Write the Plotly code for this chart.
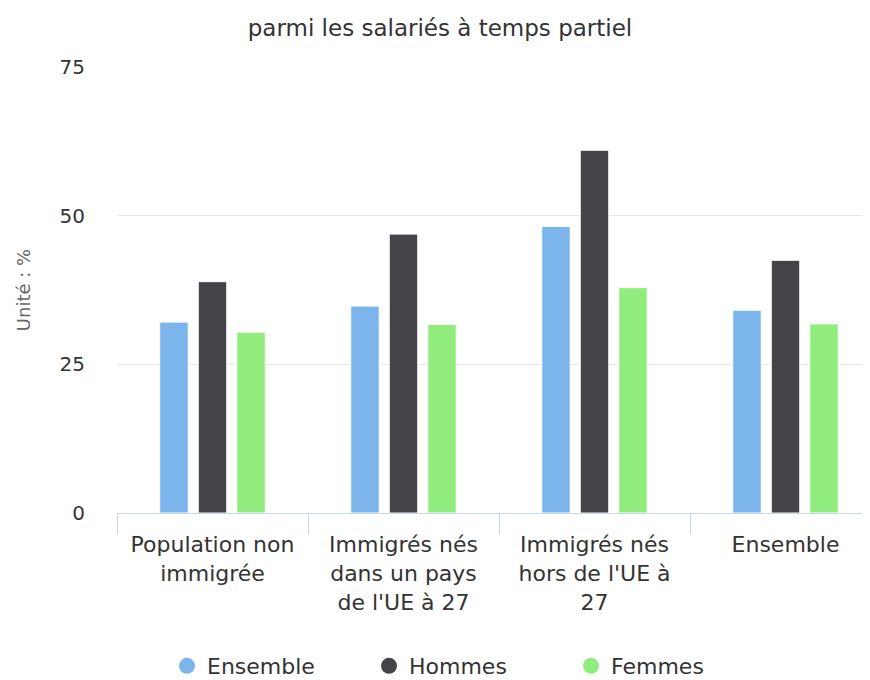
import plotly.graph_objects as go

categories = ["Population non<br>immigrée", "Immigrés nés<br>dans un pays<br>de l'UE à 27",
              "Immigrés nés<br>hors de l'UE à<br>27", "Ensemble"]
series_names = ["Ensemble", "Hommes", "Femmes"]
ensemble = [32.1, 34.8, 48.2, 34.1]
hommes = [38.9, 46.9, 61.0, 42.5]
femmes = [30.4, 31.7, 37.9, 31.8]
colors = ["#7cb5ec", "#434348", "#90ed7d"]
yticks = [0, 25, 50, 75]

# page body adds an 8px margin, so the figure is 8px smaller and shifted
W, H = 862, 672
left, top, bottom = 109, 59, 505
cat_w = 191.0
FONT = "DejaVu Sans"

fig = go.Figure()
for name, vals, col in zip(series_names, [ensemble, hommes, femmes], colors):
    fig.add_trace(go.Bar(x=categories, y=vals, name=name, showlegend=False,
                         marker=dict(color=col, line=dict(color="#ffffff", width=1)),
                         hoverinfo="y"))
for name, col in zip(series_names, colors):
    fig.add_trace(go.Scatter(x=[None], y=[None], mode="markers", name=name,
                             marker=dict(color=col, size=16, symbol="circle")))

x_max = -0.5 + (W - left) / cat_w

fig.update_layout(
    width=W, height=H,
    paper_bgcolor="white", plot_bgcolor="white",
    margin=dict(l=left, r=0, t=top, b=H - bottom, pad=0),
    font=dict(family=FONT, size=20, color="#333333"),
    title=dict(text="parmi les salariés à temps partiel", x=432 / W, xref="container",
               xanchor="center", y=1 - 20 / H, yanchor="middle",
               font=dict(family=FONT, size=23, color="#333333")),
    barmode="group", bargap=0.395, bargroupgap=0.26,
    showlegend=True,
    legend=dict(orientation="h", x=159 / W, xref="container", xanchor="left",
                y=14 / H, yref="container", yanchor="middle",
                font=dict(family=FONT, size=22, color="#333333"),
                entrywidth=157, entrywidthmode="pixels"),
)
fig.update_xaxes(type="category", range=[-0.5, x_max], showgrid=False,
                 showline=True, linecolor="#ccd6eb", linewidth=1,
                 ticks="outside", tickson="boundaries", ticklen=20, tickcolor="#ccd6eb",
                 ticklabelstandoff=12,
                 tickfont=dict(family=FONT, size=22, color="#333333"),
                 fixedrange=True)
fig.update_yaxes(range=[0, 75], tickvals=yticks, ticktext=[str(v) for v in yticks],
                 showgrid=True, gridcolor="#e6e6e6", gridwidth=1, zeroline=False,
                 showline=False, ticks="", ticklabelstandoff=31,
                 tickfont=dict(family=FONT, size=20, color="#333333"),
                 title=dict(text="Unité : %", standoff=24,
                            font=dict(family=FONT, size=18, color="#666666")))

fig.write_html("out.html")
